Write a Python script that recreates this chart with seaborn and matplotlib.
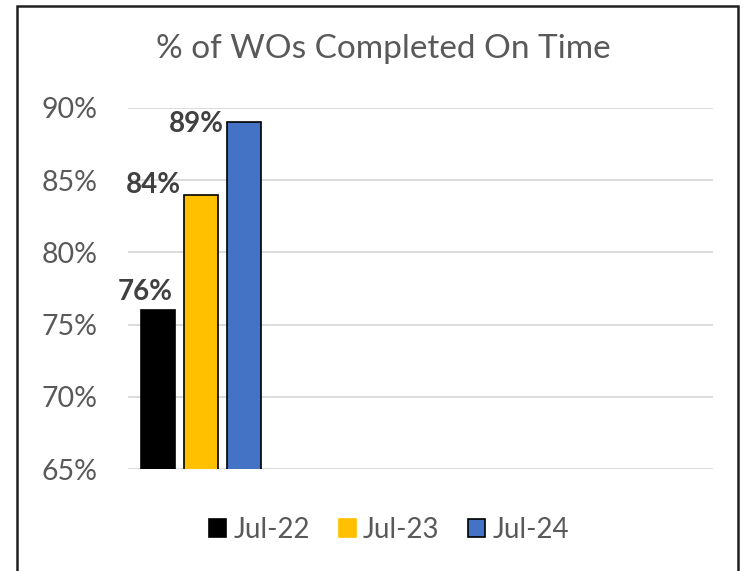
import numpy as np
import pandas as pd
import matplotlib
matplotlib.use("Agg")
import matplotlib.pyplot as plt
import seaborn as sns
from matplotlib.patches import Rectangle, Patch
from matplotlib.ticker import PercentFormatter

# Data
periods = ["Jul-22", "Jul-23", "Jul-24"]
on_time = [0.76, 0.84, 0.89]
bar_colors = ["#000000", "#FFC000", "#4472C4"]
y_ticks = [0.65, 0.70, 0.75, 0.80, 0.85, 0.90]

df = pd.DataFrame({"group": ["WOs"] * 3, "period": periods, "value": on_time})

sns.set_theme(style="white")
plt.rcParams["font.family"] = ["Lato", "DejaVu Sans"]

fig = plt.figure(figsize=(7.54, 5.71), dpi=100)
ax = fig.add_axes([0.1698, 0.1786, 0.9456 - 0.1698, 0.8109 - 0.1786])

sns.barplot(data=df, x="group", y="value", hue="period", palette=bar_colors,
            saturation=1, width=1.0, gap=0.2, edgecolor="black", linewidth=1.2,
            legend=False, ax=ax)

ax.set_ylim(0.65, 0.90)
ax.set_xlim(-0.566, 3.97)
ax.set_yticks(y_ticks)
ax.yaxis.set_major_formatter(PercentFormatter(1.0, decimals=0))
ax.tick_params(axis="y", length=0, pad=22, labelsize=20.5, labelcolor="#595959")
ax.set_xticks([])
ax.set_xlabel("")
ax.set_ylabel("")
for s in ax.spines.values():
    s.set_visible(False)
ax.grid(axis="y", color="#d9d9d9", linewidth=1.3)
ax.set_axisbelow(True)

# data labels, placed up-left of each bar like the Excel original
label_anchor = ["right", "left", "left"]   # which bar edge the label ends at
label_dy = [13, 7, -1]                      # points above the bar top
for bar, anchor, dy in zip(ax.patches, label_anchor, label_dy):
    h = bar.get_height()
    x = bar.get_x() + (bar.get_width() if anchor == "right" else 0)
    ax.annotate(f"{h * 100:.0f}%", (x, h), xytext=(-2, dy), textcoords="offset points",
                ha="right", va="center", fontsize=20, fontweight="bold",
                color="#404040", annotation_clip=False)

fig.text(0.508, 0.914, "% of WOs Completed On Time", ha="center", va="center",
         fontsize=24, color="#595959")

handles = [Patch(facecolor=c, edgecolor=("black" if i == 2 else c), linewidth=1.2)
           for i, c in enumerate(bar_colors)]
fig.legend(handles, periods, loc="center", bbox_to_anchor=(0.516, 0.072), ncol=3,
           frameon=False, fontsize=20, labelcolor="#595959", handlelength=0.61,
           handleheight=0.61, handletextpad=0.25, columnspacing=1.05)

fig.patches.append(Rectangle((17 / 754, -0.05), (738 - 17) / 754, 1.05 - 6 / 571,
                             transform=fig.transFigure, fill=False,
                             edgecolor="#202020", linewidth=1.8))

fig.savefig("out.png", dpi=100)
